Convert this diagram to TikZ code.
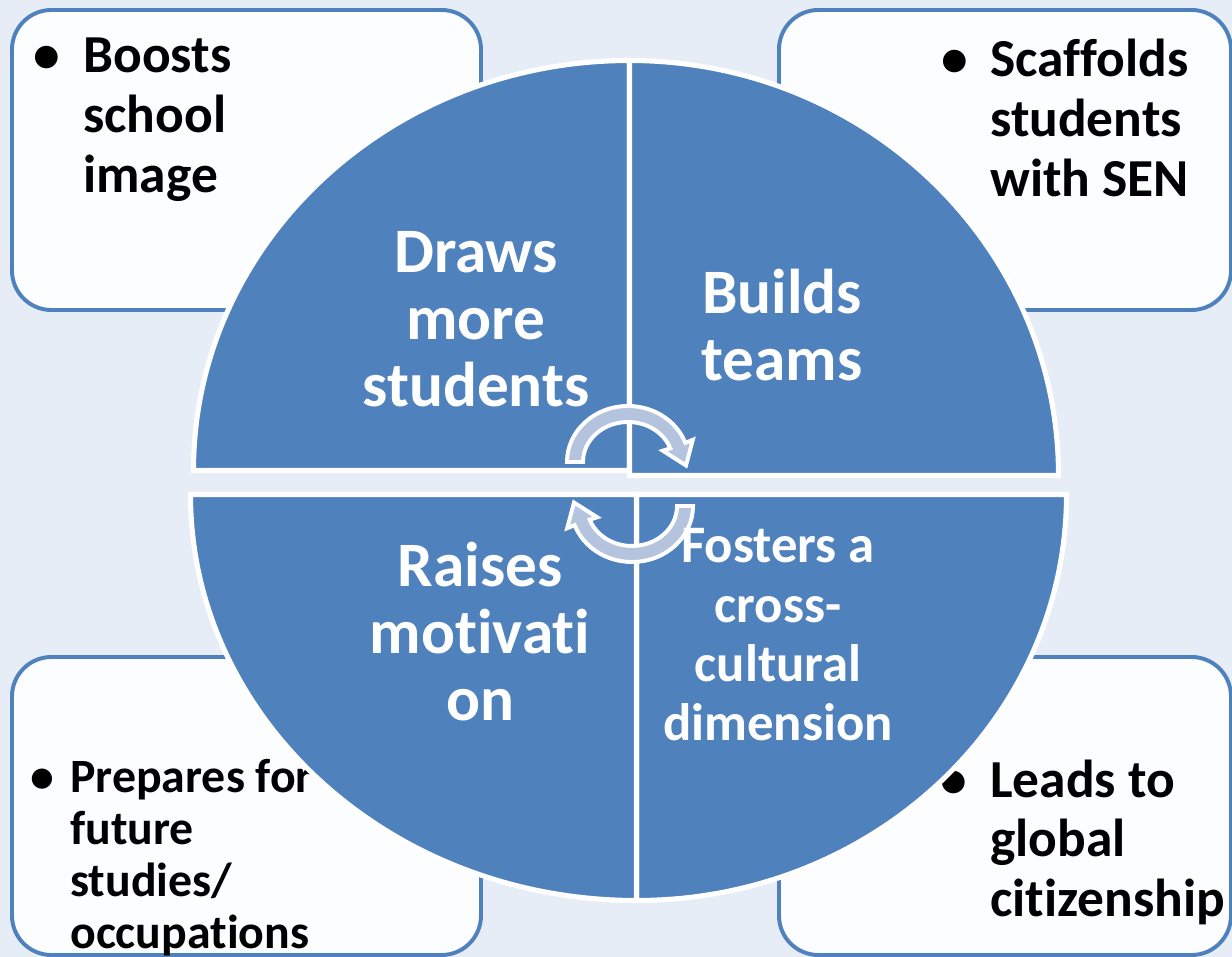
\documentclass[tikz,border=0pt]{standalone}
\usepackage{fontspec}
\setmainfont{Carlito}[Ligatures=NoCommon]
\usepackage{tikz}
\usetikzlibrary{positioning}
\definecolor{bgblue}{RGB}{231,237,247}
\definecolor{accent}{RGB}{79,129,189}
\definecolor{boxwhite}{RGB}{252,253,255}
\definecolor{cycfill}{RGB}{180,196,222}
\tikzset{
  box/.style={draw=accent,fill=boxwhite,line width=2.8pt,rounded corners=28pt},
  quad/.style={fill=accent,draw=white,line width=3.6pt},
  cyc/.style={fill=cycfill,draw=white,line width=2.8pt},
  bullet/.style={anchor=base,inner sep=0pt,font=\bfseries\fontsize{38}{42.5}\selectfont},
  itemtext/.style={anchor=base west,inner sep=0pt,font=\bfseries\fontsize{38}{42.5}\selectfont},
  quadtext/.style={anchor=base,inner sep=0pt,text=white,font=\bfseries\fontsize{45}{47.6}\selectfont}
}

\begin{document}
\begin{tikzpicture}[x=0.025cm,y=-0.025cm]
       \useasboundingbox (0,0) rectangle (1232,957);
       \clip (0,0) rectangle (1232,957);
       \fill[bgblue] (0,0) rectangle (1232,957);
       \draw[box] (12,10) rectangle (481,310);
       \draw[box] (779,10) rectangle (1231,310);
       \draw[box] (12,657) rectangle (481,955);
       \draw[box] (779,657) rectangle (1231,955);
       \node[bullet] (boostsdot) at (47,73) {•};
       \node[itemtext] (boosts) at (83,73) {\begin{tabular}[t]{@{}l@{}}Boosts\\school\\image\end{tabular}};
       \node[bullet] (scaffoldsdot) at (955,77) {•};
       \node[itemtext] (scaffolds) at (990,77) {\begin{tabular}[t]{@{}l@{}}Scaffolds\\students\\with SEN\end{tabular}};
       \node[bullet,font=\bfseries\fontsize{34}{37}\selectfont] (preparesdot) at (42,792) {•};
       \node[itemtext,font=\bfseries\fontsize{34}{37}\selectfont] (prepares) at (70,792) {\begin{tabular}[t]{@{}l@{}}Prepares for\\future\\studies/\\occupations\end{tabular}};
       \node[bullet] (leadsdot) at (954,797) {•};
       \node[itemtext] (leads) at (990,797) {\begin{tabular}[t]{@{}l@{}}Leads to\\global\\citizenship\end{tabular}};
       \filldraw[quad] (629.5,470.5) -- ++(-436,0) arc[start angle=180,end angle=270,x radius=436,y radius=410] -- cycle;
       \filldraw[quad] (629.5,475.5) -- ++(0,-415) arc[start angle=270,end angle=360,x radius=429,y radius=415] -- cycle;
       \filldraw[quad] (636.5,494.5) -- ++(430,0) arc[start angle=0,end angle=90,x radius=430,y radius=406] -- cycle;
       \filldraw[quad] (636.5,494.5) -- ++(0,406) arc[start angle=90,end angle=180,x radius=446,y radius=406] -- cycle;
       \begin{scope}[shift={(628,462)}]
         \filldraw[cyc] (180:61 and 56) arc[start angle=180,end angle=340,x radius=61,y radius=56] -- (340:69 and 65) -- (58,3.5) -- (340:37 and 33) -- (340:45 and 40) arc[start angle=340,end angle=180,x radius=45,y radius=40] -- cycle;
       \end{scope}
       \begin{scope}[shift={(632,506)}]
         \filldraw[cyc] (0:61 and 56) arc[start angle=0,end angle=160,x radius=61,y radius=56] -- (160:69 and 65) -- (-58,-3.5) -- (160:37 and 33) -- (160:45 and 40) arc[start angle=160,end angle=0,x radius=45,y radius=40] -- cycle;
       \end{scope}
       \node[quadtext] (draws) at (476,273) {\begin{tabular}[t]{@{}c@{}}Draws\\more\\students\end{tabular}};
       \node[quadtext] (builds) at (782,314) {\begin{tabular}[t]{@{}c@{}}Builds\\teams\end{tabular}};
       \node[quadtext] (raises) at (480,587) {\begin{tabular}[t]{@{}c@{}}Raises\\motivati\\on\end{tabular}};
       \node[quadtext,font=\bfseries\fontsize{37.5}{42}\selectfont] (fosters) at (778,563) {\begin{tabular}[t]{@{}c@{}}Fosters a\\cross-\\cultural\\dimension\end{tabular}};
      \end{tikzpicture}
\end{document}
